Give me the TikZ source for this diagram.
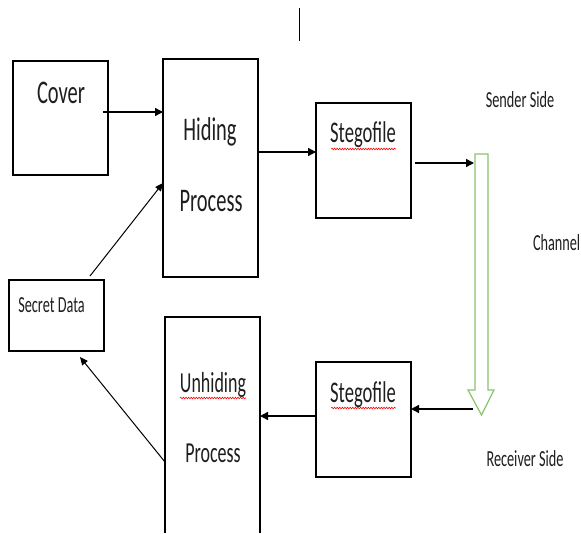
\documentclass[tikz,border=0pt]{standalone}
\usepackage{fontspec}
\newfontfamily\cfont[FakeStretch=0.62]{Carlito}
\usetikzlibrary{arrows.meta,calc,decorations.pathmorphing}
\definecolor{chgreen}{RGB}{140,195,110}
\definecolor{txt}{RGB}{30,30,30}
\tikzset{
  box/.style={draw, line width=1.1pt, inner sep=0pt, outer sep=0pt},
  ghost/.style={inner sep=0pt, outer sep=0pt},
  arr/.style={line width=1.4pt, -{Triangle[length=8pt,width=8pt]}},
  thinarr/.style={line width=1pt, -{Triangle[length=8pt,width=7pt]}},
  lbl/.style={inner sep=0pt, outer sep=0pt, anchor=base, text=txt},
  big/.style={lbl, font=\cfont\fontsize{33}{36}\selectfont},
  mid/.style={lbl, font=\cfont\fontsize{30}{33}\selectfont},
  midb/.style={lbl, font=\cfont\fontsize{29}{32}\selectfont},
  small/.style={lbl, font=\cfont\fontsize{23}{26}\selectfont},
  wavy/.style={red, line width=0.6pt, decorate, decoration={snake, amplitude=0.8pt, segment length=2.6pt}},
  chan/.style={draw=chgreen, line width=1.2pt, fill=white}
}
\begin{document}
\begin{tikzpicture}[x=1pt,y=-1pt]
\useasboundingbox (0,0) rectangle (581,533);
% boxes
\node[box, minimum width=95pt, minimum height=114pt] (cover) at (60.5,118) {};
\node[box, minimum width=95pt, minimum height=218pt] (hiding) at (210.5,168) {};
\node[box, minimum width=95pt, minimum height=115pt] (steg1) at (363.5,160.5) {};
\node[box, minimum width=95pt, minimum height=71pt] (secret) at (56.5,315.5) {};
\node[ghost, minimum width=95pt, minimum height=216pt] (unhide) at (212.5,425) {};
\draw[line width=1.1pt] (unhide.south west) -- (unhide.north west) -- (unhide.north east) -- (unhide.south east);
\node[box, minimum width=95pt, minimum height=115pt] (steg2) at (363.5,419.5) {};
% stray mark
\coordinate (m1) at (299,8);
\coordinate (m2) at (299,41);
\draw[line width=1pt] (m1) -- (m2);
% channel arrow
\coordinate (chin) at (474,163);
\coordinate (chout) at (473,409);
\draw[chan] (475,154) -- (488,154) -- (488,390) -- (494,390) -- (481.5,415) -- (468,390) -- (475,390) -- cycle;
% texts
\node[big] (tcover) at (61,103) {Cover};
\node[big] (thid) at (210,140) {Hiding};
\node[big] (tproc1) at (211,211) {Process};
\node[mid] (ts1) at (363,142) {Stegofile};
\node[mid] (ts2) at (363,402) {Stegofile};
\node[midb] (tunh) at (213,392) {Unhiding};
\node[midb] (tproc2) at (213,462) {Process};
\node[small] (tsec) at (51.5,312) {Secret Data};
\node[small] (tsend) at (520,107) {Sender Side};
\node[small, anchor=base west] (tchan) at (533,250) {Channel};
\node[small] (trecv) at (525,466) {Receiver Side};
% spell-check underlines
\draw[wavy] ($(ts1.base west)+(1,7)$) -- ($(ts1.base east)+(0,7)$);
\draw[wavy] ($(ts2.base west)+(1,6)$) -- ($(ts2.base east)+(0,6)$);
\draw[wavy] ($(tunh.base west)+(0,6)$) -- ($(tunh.base east)+(0,6)$);
% connectors
\draw[arr] ($(cover.east)+(-5,-6)$) coordinate (c1) -- (c1 -| hiding.west);
\draw[arr] ($(hiding.east)+(0,-16)$) coordinate (c2) -- (c2 -| steg1.west);
\draw[arr] ($(steg1.east)+(4,2.5)$) -- (chin);
\draw[arr] (chout) -- (chout -| steg2.east);
\draw[arr] ($(steg2.west)+(0,-3.5)$) coordinate (c3) -- (c3 -| unhide.east);
\draw[thinarr] ($(unhide.west)+(0,37)$) -- ($(secret.south)+(23.5,6)$);
\draw[thinarr] ($(secret.north)+(33.5,-4)$) -- ($(hiding.west)+(0,15)$);
\end{tikzpicture}
\end{document}
